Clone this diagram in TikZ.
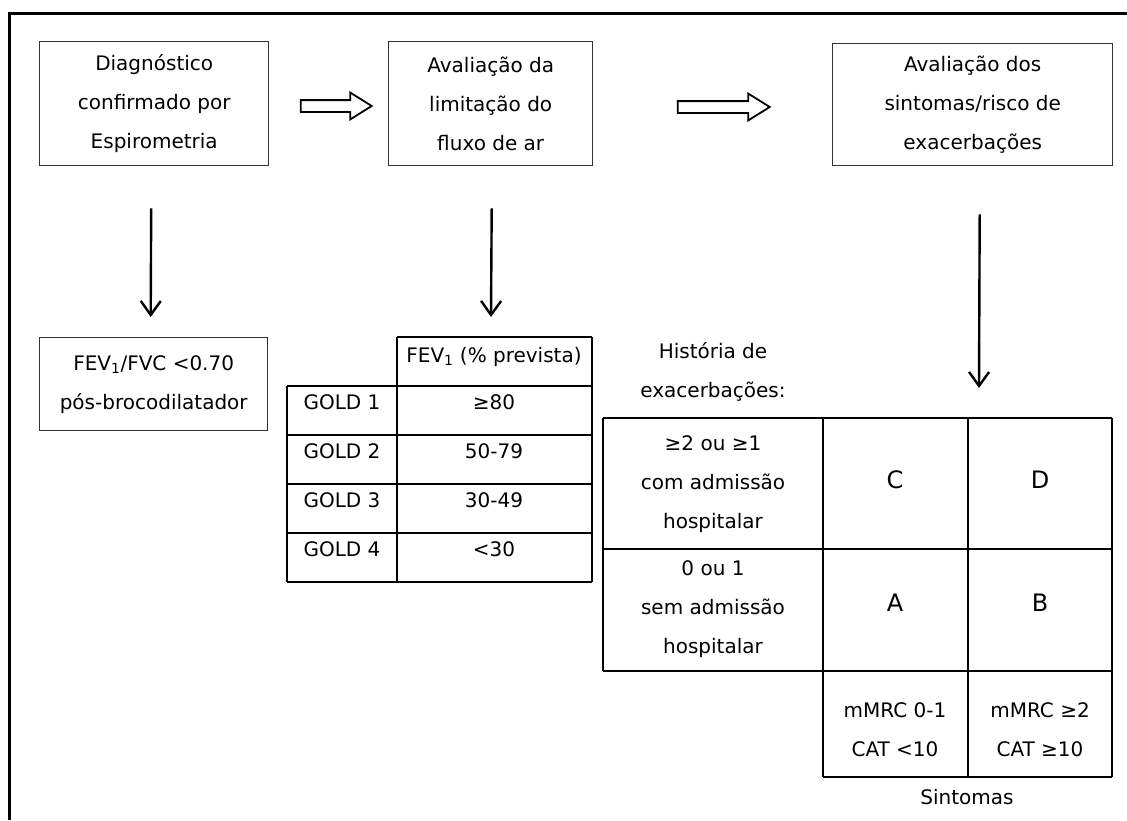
\documentclass[tikz,border=0pt]{standalone}
\usepackage{fontspec}
\setmainfont{DejaVu Sans}
\usetikzlibrary{shapes.arrows, arrows.meta, positioning, calc}

\begin{document}
\begin{tikzpicture}[
    x=1pt, y=-1pt,
    font=\fontsize{20}{39}\selectfont,
    stepbox/.style={draw=black!80, line width=1.4pt, align=center, inner sep=0pt, anchor=north west},
    flow/.style={single arrow, draw, line width=1.8pt, inner xsep=0pt, inner ysep=5pt, single arrow head extend=7.5pt, single arrow tip angle=64},
    downarrow/.style={-{Straight Barb[length=14pt, width=20pt]}, line width=2.4pt},
    tabline/.style={line width=1.3pt},
    celltext/.style={anchor=base},
    multitext/.style={align=center},
    letter/.style={font=\fontsize{24}{28}\selectfont}
]
\useasboundingbox (0,0) rectangle (1127,820);
\draw[line width=3pt] (9,820) -- (9,13) -- (1127,13);

% top row: the three steps
\node[stepbox, minimum width=229pt, minimum height=124pt] (diag) at (39,41) {Diagnóstico\\confirmado por\\Espirometria};
\node[stepbox, minimum width=204pt, minimum height=124pt] (airflow) at (388,41) {Avaliação da\\limitação do\\fluxo de ar};
\node[stepbox, minimum width=280pt, minimum height=122pt] (symptoms) at (832,43) {Avaliação dos\\sintomas/risco de\\exacerbações};

\node[flow, minimum height=71pt] (flow1) at (331.5,106) {};
\node[flow, minimum height=92pt] (flow2) at (719,107) {};

% spirometry result
\node[stepbox, minimum width=228pt, minimum height=93pt] (fev) at (39,337) {FEV\textsubscript{1}/FVC <0.70\\pós-brocodilatador};

% GOLD table
\coordinate (tabtop) at (491,337);
\draw[tabline] (397,337) -- (592,337);
\foreach \y in {386,435,484,533,582}
    \draw[tabline] (287,\y) -- (592,\y);
\draw[tabline] (287,386) -- (287,582);
\draw[tabline] (397,337) -- (397,582);
\draw[tabline] (592,337) -- (592,582);
\node[celltext] (fevhead) at (494,362) {FEV\textsubscript{1} (\% prevista)};
\foreach \g/\v [count=\i] in {1/{≥80}, 2/{50-79}, 3/{30-49}, 4/{<30}} {
    \node[celltext] (gold\g) at (342,{386+49*(\i-1)+23}) {GOLD \g};
    \node[celltext] (val\g) at (494,{386+49*(\i-1)+23}) {\v};
}

% ABCD matrix
\coordinate (mattop) at (979,418);
\draw[tabline] (603,418) -- (1112,418);
\draw[tabline] (603,549) -- (1112,549);
\draw[tabline] (603,671) -- (1112,671);
\draw[tabline] (823,777) -- (1112,777);
\draw[tabline] (603,418) -- (603,671);
\foreach \x in {823,968,1112}
    \draw[tabline] (\x,418) -- (\x,777);

\node[multitext] (hist) at (713,372) {História de\\exacerbações:};
\node[multitext] (high) at (713,484) {≥2 ou ≥1\\com admissão\\hospitalar};
\node[multitext] (low) at (713,609) {0 ou 1\\sem admissão\\hospitalar};
\node[letter] (gc) at (895,480) {C};
\node[letter] (gd) at (1040,480) {D};
\node[letter] (ga) at (895,603) {A};
\node[letter] (gb) at (1040,603) {B};
\node[multitext] (few) at (895,730) {mMRC 0-1\\CAT <10};
\node[multitext] (many) at (1040,730) {mMRC ≥2\\CAT ≥10};
\node (sint) at (967,797) {Sintomas};

% vertical arrows
\draw[downarrow] ([xshift=-3pt, yshift=-42pt]diag.south) -- ([xshift=-3pt, yshift=20pt]fev.north);
\draw[downarrow] ([xshift=1pt, yshift=-42pt]airflow.south) -- ([yshift=20pt]tabtop);
\draw[downarrow] ([xshift=7pt, yshift=-48pt]symptoms.south) -- ([yshift=30pt]mattop);

\end{tikzpicture}
\end{document}
